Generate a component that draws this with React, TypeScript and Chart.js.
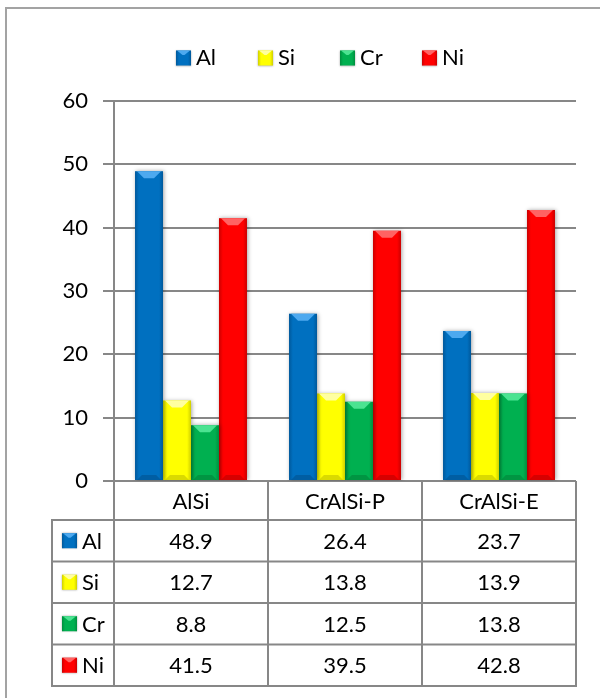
import { useEffect, useRef } from "react";
import { Chart, registerables } from "chart.js";

Chart.register(...registerables);

// Composition (at.%) of the three coatings
const categories = ["AlSi", "CrAlSi-P", "CrAlSi-E"];
const seriesLabels = ["Al", "Si", "Cr", "Ni"];
const alValues = [48.9, 26.4, 23.7];
const siValues = [12.7, 13.8, 13.9];
const crValues = [8.8, 12.5, 13.8];
const niValues = [41.5, 39.5, 42.8];
const yTickValues = [0, 10, 20, 30, 40, 50, 60];

const seriesValues = [alValues, siValues, crValues, niValues];

const PALETTE = [
  { base: "#0070C0", light: "#4da9ef", dark: "0,60,110" },
  { base: "#FFFF00", light: "#ffffa0", dark: "150,150,0" },
  { base: "#00B050", light: "#4be391", dark: "0,100,40" },
  { base: "#FF0000", light: "#ff6363", dark: "140,0,0" },
];

const FONT_FAMILY = "Lato, 'Open Sans', sans-serif";
const FONT_SIZE = 22;
const GRID = "#878787";
const FRAME = "#a3a3a3";
const TEXT = "#000000";

// Bevelled square used for legend keys
function drawSwatch(ctx: CanvasRenderingContext2D, x: number, y: number, s: number, i: number) {
  const pal = PALETTE[i];
  ctx.save();
  ctx.shadowColor = "rgba(0,0,0,0.35)";
  ctx.shadowBlur = 2;
  ctx.fillStyle = pal.base;
  ctx.fillRect(x, y, s, s);
  ctx.restore();
  ctx.save();
  const g = ctx.createLinearGradient(x, 0, x + s, 0);
  g.addColorStop(0, `rgba(${pal.dark},0.45)`);
  g.addColorStop(0.2, `rgba(${pal.dark},0)`);
  g.addColorStop(0.8, `rgba(${pal.dark},0)`);
  g.addColorStop(1, `rgba(${pal.dark},0.45)`);
  ctx.fillStyle = g;
  ctx.fillRect(x, y, s, s);
  const b = s * 0.3;
  ctx.beginPath();
  ctx.moveTo(x + 1, y);
  ctx.lineTo(x + s - 1, y);
  ctx.lineTo(x + s / 2 + 1, y + b);
  ctx.lineTo(x + s / 2 - 1, y + b);
  ctx.closePath();
  ctx.fillStyle = pal.light;
  ctx.fill();
  ctx.restore();
}

const framePlugin = {
  id: "frame",
  beforeDraw(chart: any) {
    const ctx = chart.ctx as CanvasRenderingContext2D;
    ctx.save();
    ctx.fillStyle = "#ffffff";
    ctx.fillRect(0, 0, chart.width, chart.height);
    ctx.strokeStyle = FRAME;
    ctx.lineWidth = 2;
    ctx.beginPath();
    ctx.moveTo(6, chart.height);
    ctx.lineTo(6, 8);
    ctx.lineTo(chart.width, 8);
    ctx.stroke();
    ctx.restore();
  },
};

const bevelPlugin = {
  id: "bevel",
  beforeDatasetDraw(chart: any) {
    const ctx = chart.ctx as CanvasRenderingContext2D;
    ctx.save();
    ctx.shadowColor = "rgba(0,0,0,0.35)";
    ctx.shadowBlur = 4;
    ctx.shadowOffsetX = 1;
    ctx.shadowOffsetY = 0;
  },
  afterDatasetDraw(chart: any) {
    chart.ctx.restore();
  },
  afterDatasetsDraw(chart: any) {
    const ctx = chart.ctx as CanvasRenderingContext2D;
    chart.data.datasets.forEach((_ds: any, di: number) => {
      const meta = chart.getDatasetMeta(di);
      const pal = PALETTE[di];
      meta.data.forEach((el: any) => {
        const { x, y, base, width } = el.getProps(["x", "y", "base", "width"], true);
        const l = x - width / 2;
        const r = x + width / 2;
        const t = Math.min(y, base);
        const b = Math.max(y, base);
        const bev = Math.min(7, (b - t) / 2);
        ctx.save();
        const g = ctx.createLinearGradient(l, 0, r, 0);
        g.addColorStop(0, `rgba(${pal.dark},0.45)`);
        g.addColorStop(0.14, `rgba(${pal.dark},0)`);
        g.addColorStop(0.86, `rgba(${pal.dark},0)`);
        g.addColorStop(1, `rgba(${pal.dark},0.45)`);
        ctx.fillStyle = g;
        ctx.fillRect(l, t, width, b - t);
        // top bevel highlight
        ctx.beginPath();
        ctx.moveTo(l + 2, t);
        ctx.lineTo(r - 2, t);
        ctx.lineTo(r - 2 - bev, t + bev);
        ctx.lineTo(l + 2 + bev, t + bev);
        ctx.closePath();
        ctx.fillStyle = pal.light;
        ctx.fill();
        // bottom bevel shade
        ctx.beginPath();
        ctx.moveTo(l + 2, b);
        ctx.lineTo(r - 2, b);
        ctx.lineTo(r - 2 - bev * 0.7, b - bev * 0.7);
        ctx.lineTo(l + 2 + bev * 0.7, b - bev * 0.7);
        ctx.closePath();
        ctx.fillStyle = `rgba(${pal.dark},0.35)`;
        ctx.fill();
        ctx.restore();
      });
    });
  },
};

// Legend on top and the data table below the plot
const legendTablePlugin = {
  id: "legendTable",
  afterDraw(chart: any) {
    const ctx = chart.ctx as CanvasRenderingContext2D;
    const area = chart.chartArea;
    const xs = chart.scales.x;
    const n = categories.length;
    const catW = xs.width / n;
    const bounds: number[] = [];
    for (let i = 0; i < n; i++) bounds.push(xs.getPixelForValue(i) - catW / 2);
    bounds.push(xs.getPixelForValue(n - 1) + catW / 2);

    ctx.save();
    ctx.font = `${FONT_SIZE}px ${FONT_FAMILY}`;
    ctx.fillStyle = TEXT;
    ctx.textBaseline = "middle";

    // top legend
    const legendY = 58;
    const legendX0 = 176;
    const legendStep = 82;
    const sw = 15;
    seriesLabels.forEach((lab, i) => {
      const lx = legendX0 + i * legendStep;
      drawSwatch(ctx, lx, legendY - sw / 2, sw, i);
      ctx.fillStyle = TEXT;
      ctx.textAlign = "left";
      ctx.fillText(lab, lx + sw + 5, legendY);
    });

    // table grid
    const top = area.bottom;
    const headerBottom = top + 39;
    const rowH = 41.5;
    const tableBottom = headerBottom + rowH * seriesLabels.length;
    const keyLeft = 52;

    ctx.strokeStyle = GRID;
    ctx.lineWidth = 2;
    ctx.beginPath();
    bounds.forEach((bx) => {
      ctx.moveTo(bx, top);
      ctx.lineTo(bx, tableBottom);
    });
    ctx.moveTo(keyLeft, headerBottom);
    ctx.lineTo(keyLeft, tableBottom);
    for (let r = 0; r <= seriesLabels.length; r++) {
      const yy = headerBottom + r * rowH;
      ctx.moveTo(keyLeft - 1, yy);
      ctx.lineTo(bounds[n] + 1, yy);
    }
    ctx.stroke();

    // header
    ctx.textAlign = "center";
    categories.forEach((c, i) => {
      ctx.fillText(c, (bounds[i] + bounds[i + 1]) / 2, (top + headerBottom) / 2 + 1);
    });

    // rows
    seriesLabels.forEach((lab, r) => {
      const cy = headerBottom + r * rowH + rowH / 2;
      drawSwatch(ctx, keyLeft + 10, cy - sw / 2, sw, r);
      ctx.fillStyle = TEXT;
      ctx.textAlign = "left";
      ctx.fillText(lab, keyLeft + 10 + sw + 5, cy + 1);
      ctx.textAlign = "center";
      seriesValues[r].forEach((v, i) => {
        ctx.fillText(v.toFixed(1), (bounds[i] + bounds[i + 1]) / 2, cy + 1);
      });
    });
    ctx.restore();
  },
};

export default function App() {
  const ref = useRef<HTMLCanvasElement>(null);

  useEffect(() => {
    const canvas = ref.current;
    if (!canvas) return;
    const chart = new Chart(canvas, {
      type: "bar",
      data: {
        labels: categories,
        datasets: seriesLabels.map((lab, i) => ({
          label: lab,
          data: seriesValues[i],
          backgroundColor: PALETTE[i].base,
          borderWidth: 0,
          categoryPercentage: 0.727,
          barPercentage: 1,
        })),
      },
      options: {
        animation: false,
        responsive: false,
        devicePixelRatio: 1,
        layout: { padding: { top: 101, left: 6, right: 24, bottom: 217 } },
        plugins: {
          legend: { display: false },
          tooltip: { enabled: false },
        },
        scales: {
          x: {
            display: true,
            ticks: { display: false },
            grid: { display: false, drawTicks: false },
            border: { display: false },
            afterFit: (s: any) => {
              s.height = 0;
            },
          },
          y: {
            min: 0,
            max: 60,
            afterBuildTicks: (s: any) => {
              s.ticks = yTickValues.map((v) => ({ value: v }));
            },
            afterFit: (s: any) => {
              s.width = 108;
            },
            ticks: {
              color: TEXT,
              padding: 15,
              font: { family: FONT_FAMILY, size: FONT_SIZE },
            },
            grid: { color: GRID, lineWidth: 2, tickLength: 11, drawTicks: true },
            border: { display: true, color: GRID, width: 2 },
          },
        },
      },
      plugins: [framePlugin, bevelPlugin, legendTablePlugin],
    });
    return () => chart.destroy();
  }, []);

  return (
    <div style={{ position: "absolute", left: 0, top: 0, width: 600, height: 698, background: "#fff" }}>
      <canvas ref={ref} width={600} height={698} style={{ display: "block", width: 600, height: 698 }} />
    </div>
  );
}
